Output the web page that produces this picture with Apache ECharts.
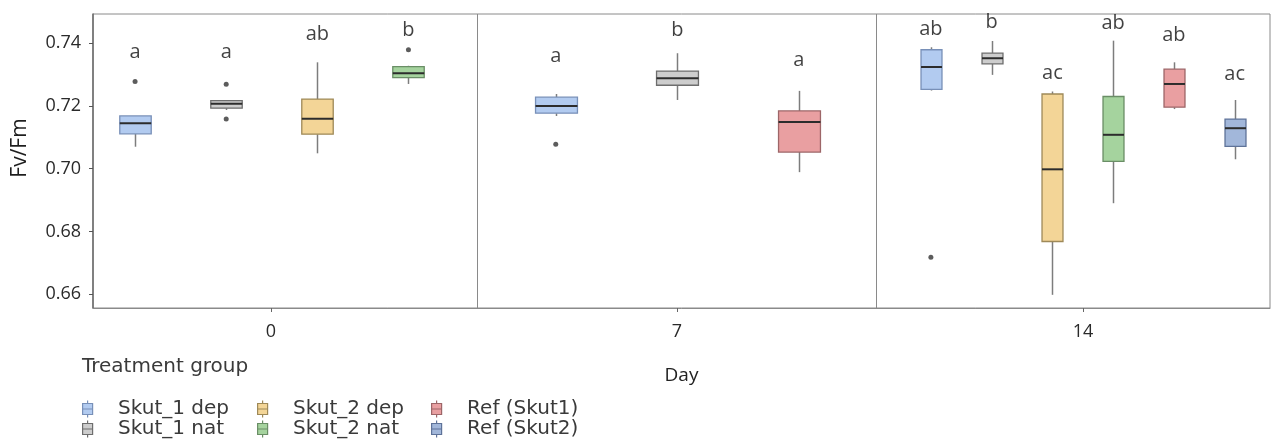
<!DOCTYPE html>
<html>
<head>
<meta charset="utf-8">
<script src="https://cdn.jsdelivr.net/npm/echarts@6/dist/echarts.min.js"></script>
<style>
  html, body { margin: 0; padding: 0; background: #fff; }
  #chart { width: 1271px; height: 446px; }
</style>
</head>
<body>
<div id="chart"></div>
<script>
// ---- data -------------------------------------------------------------
const days = [0, 7, 14];
const dayTickLabels = ['0', '7', '14'];
const groups = ['Skut_1 dep', 'Skut_1 nat', 'Skut_2 dep', 'Skut_2 nat', 'Ref (Skut1)', 'Ref (Skut2)'];

// treatment groups measured on each day
const day0Groups = ['Skut_1 dep', 'Skut_1 nat', 'Skut_2 dep', 'Skut_2 nat'];
const day7Groups = ['Skut_1 dep', 'Skut_1 nat', 'Ref (Skut1)'];
const day14Groups = ['Skut_1 dep', 'Skut_1 nat', 'Skut_2 dep', 'Skut_2 nat', 'Ref (Skut1)', 'Ref (Skut2)'];

// Fv/Fm box statistics: [lower whisker, Q1, median, Q3, upper whisker]
const day0Boxes = [
  [0.7070, 0.7111, 0.7145, 0.7168, 0.7168],
  [0.7187, 0.7193, 0.7207, 0.7217, 0.7217],
  [0.7049, 0.7110, 0.7159, 0.7222, 0.7339],
  [0.7270, 0.7290, 0.7304, 0.7325, 0.7328]
];
const day7Boxes = [
  [0.7168, 0.7177, 0.7200, 0.7228, 0.7238],
  [0.7219, 0.7266, 0.7288, 0.7311, 0.7368],
  [0.6989, 0.7053, 0.7149, 0.7184, 0.7248]
];
const day14Boxes = [
  [0.7249, 0.7253, 0.7324, 0.7379, 0.7387],
  [0.7299, 0.7334, 0.7352, 0.7368, 0.7407],
  [0.6598, 0.6768, 0.6998, 0.7238, 0.7246],
  [0.6890, 0.7023, 0.7108, 0.7230, 0.7408],
  [0.7190, 0.7196, 0.7270, 0.7317, 0.7339],
  [0.7030, 0.7071, 0.7129, 0.7158, 0.7219]
];

// outlying points: [group position within the day, Fv/Fm]
const day0Outliers = [[0, 0.7278], [1, 0.7269], [1, 0.7158], [3, 0.7379]];
const day7Outliers = [[0, 0.7078]];
const day14Outliers = [[0, 0.6718]];

// compact letter display and the Fv/Fm level each letter sits on
const day0Letters = ['a', 'a', 'ab', 'b'];
const day0LetterLevels = [0.7353, 0.7353, 0.7411, 0.7423];
const day7Letters = ['a', 'b', 'a'];
const day7LetterLevels = [0.7340, 0.7423, 0.7329];
const day14Letters = ['ab', 'b', 'ac', 'ab', 'ab', 'ac'];
const day14LetterLevels = [0.7426, 0.7448, 0.7285, 0.7446, 0.7408, 0.7283];

// y axis ticks and vertical panel separators between days
const yTicks = [0.66, 0.68, 0.70, 0.72, 0.74];
const panelBreaks = [3.557, 10.443];

// ---- styling ------------------------------------------------------------
const groupStyle = {
  'Skut_1 dep':  { fill: '#b2cbf0', stroke: '#7890b8' },
  'Skut_1 nat':  { fill: '#cdcdcd', stroke: '#6e6e6e' },
  'Skut_2 dep':  { fill: '#f3d597', stroke: '#9e8958' },
  'Skut_2 nat':  { fill: '#a5d39e', stroke: '#6a8e66' },
  'Ref (Skut1)': { fill: '#e99fa1', stroke: '#9d6668' },
  'Ref (Skut2)': { fill: '#a2b7da', stroke: '#5f7399' }
};
const BOX_RATIO = 0.345;
const Y_MIN = 0.6556, Y_MAX = 0.7493;
const TOP = 14, BOTTOM = 138;
const tickFont = 'Open Sans';
const legendFont = 'DejaVu Sans';

const panels = [
  { groups: day0Groups, boxes: day0Boxes, outliers: day0Outliers, letters: day0Letters, levels: day0LetterLevels, left: 89.5 },
  { groups: day7Groups, boxes: day7Boxes, outliers: day7Outliers, letters: day7Letters, levels: day7LetterLevels, left: 495 },
  { groups: day14Groups, boxes: day14Boxes, outliers: day14Outliers, letters: day14Letters, levels: day14LetterLevels, left: 900.5 }
];
const PANEL_WIDTH = 364.5;

// box + whiskers + median drawn from the axis scales
function renderBox(params, api) {
  const x = api.value(0);
  const lo = api.coord([x, api.value(1)]);
  const q1 = api.coord([x, api.value(2)]);
  const md = api.coord([x, api.value(3)]);
  const q3 = api.coord([x, api.value(4)]);
  const hi = api.coord([x, api.value(5)]);
  const w = api.size([1, 0])[0] * BOX_RATIO;
  const cx = Math.round(lo[0]) + 0.5;
  const st = groupStyle[params.seriesName];
  return {
    type: 'group',
    children: [
      { type: 'line', shape: { x1: cx, y1: hi[1], x2: cx, y2: q3[1] }, style: { stroke: '#7d7d7d', lineWidth: 1.5 } },
      { type: 'line', shape: { x1: cx, y1: q1[1], x2: cx, y2: lo[1] }, style: { stroke: '#7d7d7d', lineWidth: 1.5 } },
      { type: 'rect', shape: { x: cx - w / 2, y: q3[1], width: w, height: q1[1] - q3[1] },
        style: { fill: st.fill, stroke: st.stroke, lineWidth: 1.3 } },
      { type: 'line', shape: { x1: cx - w / 2, y1: md[1], x2: cx + w / 2, y2: md[1] }, style: { stroke: '#2c2c2c', lineWidth: 2 } }
    ]
  };
}

const grid = [{ left: 93, right: 1, top: TOP, bottom: BOTTOM, show: true, borderColor: '#8a8a8a', borderWidth: 1 }];
const xAxis = [{
  type: 'value', gridIndex: 0, min: -3.069, max: 17.224,
  name: 'Day', nameLocation: 'middle', nameGap: 58,
  nameTextStyle: { fontFamily: tickFont, fontSize: 19, color: '#222' },
  axisLine: { show: true, onZero: false, lineStyle: { color: '#8a8a8a', width: 1 } },
  axisTick: { show: true, length: 4, customValues: days, lineStyle: { color: '#666' } },
  axisLabel: { customValues: days, margin: 15, fontFamily: tickFont, fontSize: 18, color: '#2a2a2a',
    formatter: v => dayTickLabels[days.indexOf(v)] },
  splitLine: { show: false }
}];
const yAxis = [{
  type: 'value', gridIndex: 0, min: Y_MIN, max: Y_MAX,
  name: 'Fv/Fm', nameLocation: 'middle', nameGap: 62,
  nameTextStyle: { fontFamily: tickFont, fontSize: 21, color: '#1e1e1e', padding: [0, 0, 0, 26] },
  axisLine: { show: true, onZero: false, lineStyle: { color: '#6a6a6a', width: 1.5 } },
  axisTick: { show: true, length: 4, customValues: yTicks, lineStyle: { color: '#555' } },
  axisLabel: { customValues: yTicks, margin: 12, fontFamily: tickFont, fontSize: 18, color: '#2a2a2a',
    formatter: v => v.toFixed(2) },
  splitLine: { show: false }
}];

const series = [{
  type: 'line', xAxisIndex: 0, yAxisIndex: 0, data: [], silent: true,
  markLine: {
    symbol: 'none', silent: true, label: { show: false },
    lineStyle: { color: '#8a8a8a', width: 1, type: 'solid' },
    data: panelBreaks.map(v => ({ xAxis: v }))
  }
}];

panels.forEach((p, i) => {
  const gi = i + 1;
  grid.push({ left: p.left, width: PANEL_WIDTH, top: TOP, bottom: BOTTOM });
  xAxis.push({ type: 'category', gridIndex: gi, data: p.groups, show: false });
  yAxis.push({ type: 'value', gridIndex: gi, min: Y_MIN, max: Y_MAX, show: false });
  p.groups.forEach((g, k) => {
    series.push({
      type: 'custom', name: g, xAxisIndex: gi, yAxisIndex: gi,
      itemStyle: { color: groupStyle[g].fill, borderColor: groupStyle[g].stroke, borderWidth: 1.3 },
      encode: { x: 0, y: [1, 2, 3, 4, 5] },
      renderItem: renderBox,
      data: [[k].concat(p.boxes[k])]
    });
  });
  series.push({
    type: 'scatter', xAxisIndex: gi, yAxisIndex: gi, silent: true,
    symbolSize: 5, itemStyle: { color: '#333' },
    data: p.outliers
  });
  series.push({
    type: 'scatter', xAxisIndex: gi, yAxisIndex: gi, silent: true,
    symbolSize: 1, itemStyle: { color: 'transparent' },
    label: {
      show: true, position: 'top', distance: -5,
      fontFamily: tickFont, fontSize: 20, color: '#111',
      formatter: prm => p.letters[prm.dataIndex]
    },
    data: p.levels.map((v, k) => [k, v])
  });
});

// legend: three columns of two rows, filled column by column
const boxIcon = 'path://M5,0V3M5,14V17M0,3H10V14H0ZM0,8.5H10';
const legendColumns = [82, 257, 431];
const legendRowTops = [399, 419];
const legend = groups.map((g, idx) => ({
  data: [g], left: legendColumns[Math.floor(idx / 2)], top: legendRowTops[idx % 2],
  padding: 0, icon: boxIcon, itemWidth: 11, itemHeight: 17, selectedMode: false,
  itemStyle: { borderWidth: 1.2 },
  textStyle: { fontFamily: legendFont, fontSize: 20, color: '#3a3a3a', padding: [0, 0, 0, 20] }
}));

const chart = echarts.init(document.getElementById('chart'));
chart.setOption({
  animation: false,
  title: {
    text: 'Treatment group', left: 82, top: 357, padding: 0,
    textStyle: { fontFamily: legendFont, fontSize: 20, fontWeight: 'normal', color: '#3a3a3a' }
  },
  legend: legend,
  grid: grid,
  xAxis: xAxis,
  yAxis: yAxis,
  series: series
});
</script>
</body>
</html>
